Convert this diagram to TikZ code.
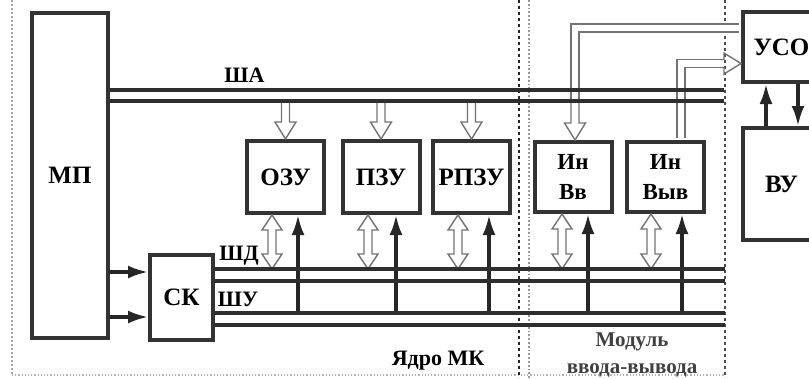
\documentclass[tikz,border=0pt]{standalone}
\usepackage{fontspec}
\setmainfont{Liberation Serif}
\usetikzlibrary{arrows.meta,positioning,calc}

\newcommand{\boxfont}{\fontsize{25}{30}\selectfont\bfseries}
\newcommand{\pairfont}{\fontsize{23}{30}\selectfont\bfseries}
\newcommand{\busfont}{\fontsize{22}{26}\selectfont\bfseries}
\newcommand{\modfont}{\fontsize{21}{27}\selectfont\bfseries}

% hollow arrow, head at #2
\newcommand{\hollowto}[2]{%
  \coordinate (ha) at #1; \coordinate (hb) at #2;
  \coordinate (hc) at ($(hb)!17pt!(ha)$);
  \draw[hollow] ($(ha)!4pt!90:(hb)$) -- ($(hc)!4pt!-90:(ha)$) -- ($(hc)!10.5pt!-90:(ha)$) -- (hb)
    -- ($(hc)!10.5pt!90:(ha)$) -- ($(hc)!4pt!90:(ha)$) -- ($(ha)!4pt!-90:(hb)$);}
% hollow arrow with two heads
\newcommand{\hollowboth}[2]{%
  \coordinate (ha) at #1; \coordinate (hb) at #2;
  \coordinate (hc) at ($(hb)!15pt!(ha)$); \coordinate (hd) at ($(ha)!15pt!(hb)$);
  \draw[hollow] (ha) -- ($(hd)!10pt!90:(hb)$) -- ($(hd)!4pt!90:(hb)$) -- ($(hc)!4pt!-90:(ha)$)
    -- ($(hc)!10pt!-90:(ha)$) -- (hb) -- ($(hc)!10pt!90:(ha)$) -- ($(hc)!4pt!90:(ha)$)
    -- ($(hd)!4pt!-90:(hb)$) -- ($(hd)!10pt!-90:(hb)$) -- cycle;}

\begin{document}
\begin{tikzpicture}[x=1pt,y=-1pt,>=Latex]
\tikzstyle{unit}=[draw=black!80,line width=4pt,minimum width=77pt,minimum height=72pt,inner sep=1pt,align=center,font=\boxfont]
\tikzstyle{bus}=[draw=black!82,line width=3.4pt]
\tikzstyle{hollow}=[draw=black!55,line width=1.4pt,line join=miter]
\tikzstyle{dline}=[draw=black!55,line width=1.4pt,double=white,double distance=6.6pt]
\tikzstyle{solidarr}=[draw=black!85,line width=3.2pt,-{Latex[length=20pt,width=13pt]}]
\tikzstyle{lbl}=[inner sep=0pt,font=\busfont]
\useasboundingbox (0,0) rectangle (809,378);
\clip (0,0) rectangle (809,378);

% zones
\draw[black!35,line width=2pt,dotted] (12,0) -- (12,375);
\draw[black!30,line width=1.2pt,dotted] (12,375) -- (725,375);
\draw[black!85,line width=1.3pt,dash pattern=on 3pt off 3pt] (519,0) -- (519,378);
\draw[black!40,line width=1.8pt,dotted] (529,0) -- (529,378);
\draw[black!70,line width=1.1pt,dash pattern=on 3pt off 3pt] (725,0) -- (725,378);

% units
\node[unit,minimum width=76pt,minimum height=325pt] (mp) at (70,175) {МП};
\node[unit,minimum width=63pt,minimum height=85pt] (sk) at (181.5,297.5) {СК};
\node[unit] (ozu) at (285.5,177) {ОЗУ};
\node[unit] (pzu) at (381,177) {ПЗУ};
\node[unit] (rpzu) at (471.5,177) {РПЗУ};
\node[unit,minimum height=70pt,font=\pairfont] (inv) at (573,177) {Ин\\Вв};
\node[unit,minimum height=70pt,font=\pairfont] (invyv) at (665.5,177) {Ин\\Выв};
\node[unit,minimum height=70pt] (uso) at (781.5,47) {УСО};
\node[unit,minimum height=112pt] (vu) at (781.5,184) {ВУ};

% bus ends
\coordinate (sha1) at (724,90);
\coordinate (sha2) at (724,101);
\coordinate (shd1) at (725,269);
\coordinate (shd2) at (725,281);
\coordinate (shu1) at (725,313);
\coordinate (shu2) at (725,325);

% links to USO
\coordinate (usoout) at ([xshift=-2pt,yshift=19pt]uso.west);
\coordinate (usoin) at ([yshift=-16.5pt]uso.west);
\coordinate (invtop) at ([xshift=2pt]inv.north);
\draw[dline] (usoout) -| (invtop |- sha2);
\hollowto{(invtop |- sha2)}{(invtop)}
\coordinate (vyvtop) at ([xshift=15.5pt,yshift=2pt]invyv.north);
\coordinate (usoarr) at ([xshift=-21pt]usoin);
\draw[dline] (vyvtop) |- (usoarr);
\hollowto{(usoarr)}{(usoin)}

% address bus to memories
\foreach \b in {ozu,pzu,rpzu}
  \hollowto{(\b.north |- sha2)}{(\b.north)};

% data bus
\foreach \b/\dx in {ozu/-13.5,pzu/-13,rpzu/-13.5,inv/-11,invyv/-14.5}{
  \coordinate (io) at ([xshift=\dx pt]\b.south);
  \hollowboth{(io)}{(io |- shd1)}
}

% control bus
\foreach \b/\dx in {ozu/12.5,pzu/15,rpzu/17.5,inv/15,invyv/16.5}{
  \coordinate (up) at ([xshift=\dx pt]\b.south);
  \draw[solidarr] (up |- shu1) -- (up);
}

% buses
\draw[bus] (mp.east |- sha1) -- (sha1);
\draw[bus] (mp.east |- sha2) -- (sha2);
\draw[bus] (sk.east |- shd1) -- (shd1);
\draw[bus] (sk.east |- shd2) -- (shd2);
\draw[bus] (sk.east |- shu1) -- (shu1);
\draw[bus] (sk.east |- shu2) -- (shu2);

% MP to SK
\coordinate (sk1) at ([yshift=25.5pt]sk.west);
\coordinate (sk2) at ([yshift=-19.5pt]sk.west);
\draw[solidarr] (mp.east |- sk1) -- (sk1);
\draw[solidarr] (mp.east |- sk2) -- (sk2);

% USO and VU
\draw[solidarr] ([xshift=-15.5pt]vu.north) -- ([xshift=-15.5pt]uso.south);
\draw[solidarr] ([xshift=16.5pt]uso.south) -- ([xshift=16.5pt]vu.north);

% labels
\node[lbl] (lsha) at (244.5,75) {ША};
\node[lbl] (lshd) at (239,256) {ШД};
\node[lbl] (lshu) at (238,299) {ШУ};
\node[lbl] (core) at (438,361) {Ядро МК};
\node[lbl,font=\modfont,text=black!75,align=center] (iomod) at (632,355) {Модуль\\ввода-вывода};
\end{tikzpicture}
\end{document}
